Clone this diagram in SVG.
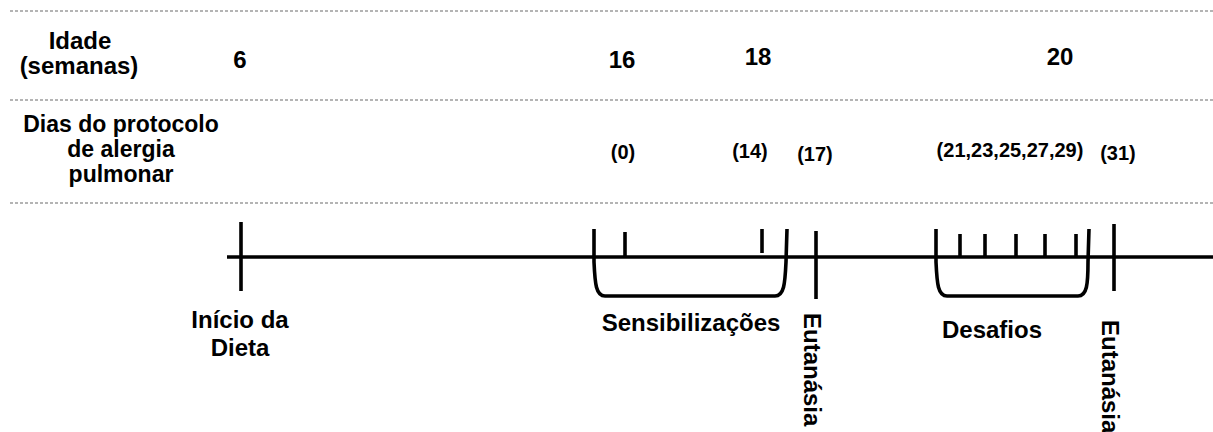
<svg xmlns="http://www.w3.org/2000/svg" width="1213" height="432" viewBox="0 0 1213 432">
  <style>
    .sep { stroke: #6b6b6b; stroke-width: 1.2; stroke-dasharray: 3 2; fill: none; }
    .axis { stroke: #000; stroke-width: 3.6; fill: none; stroke-linecap: butt; }
    .tick { stroke: #000; stroke-width: 3.6; fill: none; }
    .brace { stroke: #000; stroke-width: 3.6; fill: none; stroke-linejoin: round; }
    .lbl { font-family: "Liberation Sans", Arial, sans-serif; font-weight: bold; font-size: 24px; fill: #000; text-anchor: middle; }
    .stack { font-size: 23px; }
    .vert { text-anchor: start; }
    .day { font-family: "Liberation Sans", Arial, sans-serif; font-weight: bold; font-size: 20px; fill: #000; text-anchor: middle; }
  </style>

  <!-- row separators -->
  <g id="separators">
    <line class="sep" x1="10" y1="11" x2="1213" y2="11"/>
    <line class="sep" x1="10" y1="100" x2="1213" y2="100"/>
    <line class="sep" x1="10" y1="203" x2="1213" y2="203"/>
  </g>

  <!-- row headers -->
  <g id="header-age">
    <text class="lbl" x="80" y="49">Idade</text>
    <text class="lbl" x="79" y="74">(semanas)</text>
  </g>
  <g id="header-days">
    <text class="lbl stack" x="121" y="132">Dias do protocolo</text>
    <text class="lbl stack" x="121" y="157">de alergia</text>
    <text class="lbl stack" x="121" y="182">pulmonar</text>
  </g>

  <!-- age in weeks -->
  <g id="weeks">
    <text class="lbl" x="240" y="68">6</text>
    <text class="lbl" x="622" y="68">16</text>
    <text class="lbl" x="758" y="65">18</text>
    <text class="lbl" x="1060" y="65">20</text>
  </g>

  <!-- protocol days -->
  <g id="days">
    <text class="day" x="623" y="159">(0)</text>
    <text class="day" x="750" y="158">(14)</text>
    <text class="day" x="815" y="161">(17)</text>
    <text class="day" x="1010" y="157">(21,23,25,27,29)</text>
    <text class="day" x="1118" y="160">(31)</text>
  </g>

  <!-- timeline -->
  <g id="connectors">
    <line class="axis" x1="227" y1="257" x2="1213" y2="257"/>
  </g>

  <g id="diet-start">
    <line class="tick" x1="241" y1="222" x2="241" y2="291"/>
    <text class="lbl" x="240" y="328">Início da</text>
    <text class="lbl" x="240" y="356">Dieta</text>
  </g>

  <g id="sensitization">
    <path class="brace" d="M594,229 L594,262 C595,284 596,296 605,296 L775,296 C784,296 785,284 786,262 L787,229"/>
    <line class="tick" x1="625" y1="232" x2="625" y2="257"/>
    <line class="tick" x1="762" y1="229" x2="762" y2="253"/>
    <text class="lbl" x="691" y="331">Sensibilizações</text>
  </g>

  <g id="euthanasia-1">
    <line class="tick" x1="816" y1="231" x2="816" y2="299"/>
    <text class="lbl vert" transform="translate(804,313) rotate(90)">Eutanásia</text>
  </g>

  <g id="challenges">
    <path class="brace" d="M936,229 L936,262 C937,284 938,296 947,296 L1078,296 C1087,296 1088,284 1088,262 L1089,229"/>
    <line class="tick" x1="960" y1="234" x2="960" y2="257"/>
    <line class="tick" x1="985" y1="234" x2="985" y2="257"/>
    <line class="tick" x1="1016" y1="234" x2="1016" y2="257"/>
    <line class="tick" x1="1045" y1="234" x2="1045" y2="257"/>
    <line class="tick" x1="1076" y1="234" x2="1076" y2="257"/>
    <text class="lbl" x="992" y="338">Desafios</text>
  </g>

  <g id="euthanasia-2">
    <line class="tick" x1="1114" y1="224" x2="1114" y2="291"/>
    <text class="lbl vert" transform="translate(1102,320) rotate(90)">Eutanásia</text>
  </g>
</svg>
